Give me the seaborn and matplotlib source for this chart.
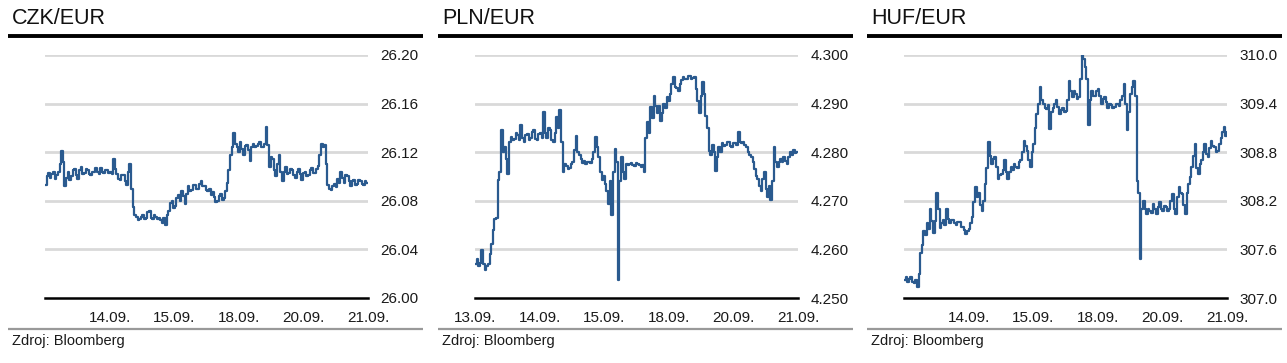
import numpy as np
import pandas as pd
import matplotlib
matplotlib.use("Agg")
import matplotlib.pyplot as plt
from matplotlib.lines import Line2D
import seaborn as sns

# ---------------- data ----------------
date_labels = ["13.09.", "14.09.", "15.09.", "18.09.", "20.09.", "21.09."]

czk_values = [
    26.093, 26.100, 26.103, 26.099, 26.102, 26.104, 26.098, 26.101, 26.104, 26.110,
    26.121, 26.112, 26.092, 26.099, 26.104, 26.097, 26.100, 26.105, 26.106, 26.101,
    26.098, 26.105, 26.108, 26.102, 26.103, 26.106, 26.105, 26.102, 26.101, 26.104,
    26.104, 26.107, 26.104, 26.102, 26.107, 26.104, 26.103, 26.105, 26.105, 26.103,
    26.104, 26.102, 26.114, 26.106, 26.102, 26.098, 26.097, 26.101, 26.101, 26.096,
    26.093, 26.104, 26.110, 26.090, 26.075, 26.068, 26.067, 26.064, 26.065, 26.067,
    26.068, 26.065, 26.066, 26.071, 26.072, 26.066, 26.065, 26.068, 26.067, 26.065,
    26.066, 26.064, 26.062, 26.066, 26.060, 26.068, 26.072, 26.078, 26.080, 26.074,
    26.076, 26.082, 26.085, 26.080, 26.088, 26.084, 26.077, 26.086, 26.092, 26.088,
    26.089, 26.093, 26.093, 26.090, 26.090, 26.094, 26.096, 26.092, 26.092, 26.089,
    26.088, 26.090, 26.085, 26.087, 26.083, 26.079, 26.080, 26.084, 26.086, 26.081,
    26.082, 26.088, 26.095, 26.105, 26.118, 26.124, 26.136, 26.127, 26.124, 26.120,
    26.128, 26.123, 26.118, 26.125, 26.126, 26.122, 26.113, 26.124, 26.127, 26.124,
    26.125, 26.127, 26.128, 26.124, 26.124, 26.127, 26.141, 26.126, 26.108, 26.116,
    26.114, 26.105, 26.100, 26.110, 26.118, 26.104, 26.096, 26.104, 26.108, 26.102,
    26.103, 26.106, 26.105, 26.101, 26.099, 26.104, 26.106, 26.102, 26.097, 26.103,
    26.104, 26.100, 26.101, 26.105, 26.107, 26.103, 26.103, 26.106, 26.109, 26.118,
    26.127, 26.124, 26.126, 26.110, 26.093, 26.090, 26.089, 26.092, 26.094, 26.091,
    26.098, 26.095, 26.104, 26.099, 26.095, 26.101, 26.100, 26.096, 26.092, 26.096,
    26.097, 26.093, 26.094, 26.097, 26.096, 26.094, 26.093, 26.096, 26.095, 26.095,
]

pln_values = [
    4.2570, 4.2580, 4.2565, 4.2572, 4.2598, 4.2570, 4.2557, 4.2566, 4.2570, 4.2590,
    4.2612, 4.2640, 4.2663, 4.2665, 4.2742, 4.2760, 4.2845, 4.2800, 4.2810, 4.2785,
    4.2755, 4.2820, 4.2832, 4.2825, 4.2828, 4.2840, 4.2836, 4.2825, 4.2855, 4.2830,
    4.2822, 4.2835, 4.2838, 4.2826, 4.2830, 4.2842, 4.2845, 4.2828, 4.2826, 4.2838,
    4.2840, 4.2830, 4.2882, 4.2840, 4.2830, 4.2850, 4.2845, 4.2825, 4.2822, 4.2840,
    4.2872, 4.2850, 4.2886, 4.2820, 4.2759, 4.2775, 4.2772, 4.2765, 4.2768, 4.2775,
    4.2780, 4.2805, 4.2834, 4.2800, 4.2795, 4.2785, 4.2778, 4.2782, 4.2776, 4.2780,
    4.2780, 4.2777, 4.2785, 4.2800, 4.2831, 4.2810, 4.2790, 4.2760, 4.2742, 4.2750,
    4.2735, 4.2720, 4.2694, 4.2740, 4.2670, 4.2760, 4.2807, 4.2780, 4.2538, 4.2740,
    4.2790, 4.2760, 4.2745, 4.2775, 4.2773, 4.2776, 4.2778, 4.2774, 4.2772, 4.2777,
    4.2776, 4.2773, 4.2770, 4.2774, 4.2759, 4.2830, 4.2862, 4.2840, 4.2892, 4.2870,
    4.2916, 4.2895, 4.2880, 4.2895, 4.2865, 4.2880, 4.2900, 4.2890, 4.2913, 4.2905,
    4.2920, 4.2940, 4.2954, 4.2935, 4.2932, 4.2925, 4.2940, 4.2948, 4.2954, 4.2950,
    4.2950, 4.2956, 4.2956, 4.2950, 4.2952, 4.2955, 4.2930, 4.2905, 4.2880, 4.2915,
    4.2944, 4.2920, 4.2875, 4.2850, 4.2803, 4.2795, 4.2815, 4.2800, 4.2762, 4.2790,
    4.2810, 4.2800, 4.2818, 4.2812, 4.2815, 4.2820, 4.2820, 4.2812, 4.2810, 4.2818,
    4.2818, 4.2814, 4.2841, 4.2820, 4.2818, 4.2822, 4.2815, 4.2810, 4.2800, 4.2795,
    4.2790, 4.2780, 4.2765, 4.2750, 4.2745, 4.2730, 4.2721, 4.2745, 4.2760, 4.2725,
    4.2708, 4.2730, 4.2701, 4.2740, 4.2810, 4.2780, 4.2770, 4.2780, 4.2785, 4.2780,
    4.2790, 4.2782, 4.2775, 4.2790, 4.2800, 4.2795, 4.2805, 4.2798, 4.2800, 4.2800,
]

huf_values = [
    307.22, 307.26, 307.20, 307.23, 307.26, 307.20, 307.18, 307.22, 307.14, 307.30,
    307.55, 307.65, 307.83, 307.78, 307.92, 307.85, 308.10, 307.95, 307.80, 307.95,
    308.30, 308.10, 307.87, 307.92, 307.96, 307.90, 308.10, 307.98, 307.92, 307.96,
    307.96, 307.92, 307.90, 307.94, 307.94, 307.88, 307.88, 307.84, 307.79, 307.83,
    307.85, 307.92, 308.00, 308.18, 308.37, 308.25, 308.30, 308.15, 308.08, 308.20,
    308.41, 308.60, 308.92, 308.75, 308.66, 308.72, 308.74, 308.62, 308.47, 308.52,
    308.53, 308.58, 308.70, 308.55, 308.47, 308.55, 308.62, 308.58, 308.66, 308.62,
    308.60, 308.68, 308.70, 308.80, 308.94, 308.88, 308.82, 308.70, 308.62, 308.80,
    308.90, 309.10, 309.27, 309.40, 309.60, 309.45, 309.40, 309.35, 309.33, 309.38,
    309.09, 309.30, 309.35, 309.40, 309.44, 309.36, 309.27, 309.32, 309.35, 309.30,
    309.31, 309.45, 309.68, 309.55, 309.48, 309.56, 309.52, 309.46, 309.48, 309.70,
    310.15, 309.95, 309.85, 309.70, 309.13, 309.45, 309.56, 309.50, 309.50, 309.55,
    309.58, 309.50, 309.40, 309.46, 309.48, 309.42, 309.35, 309.40, 309.38, 309.34,
    309.36, 309.40, 309.40, 309.37, 309.44, 309.50, 309.64, 309.40, 309.07, 309.30,
    309.52, 309.60, 309.68, 309.50, 308.45, 308.30, 307.48, 308.10, 308.20, 308.10,
    308.04, 308.10, 308.08, 308.05, 308.16, 308.10, 308.04, 308.12, 308.18, 308.10,
    308.08, 308.14, 308.12, 308.08, 308.10, 308.20, 308.29, 308.10, 308.04, 308.25,
    308.37, 308.30, 308.29, 308.15, 308.04, 308.30, 308.41, 308.50, 308.62, 308.75,
    308.90, 308.60, 308.53, 308.65, 308.70, 308.80, 308.90, 308.78, 308.74, 308.85,
    308.94, 308.88, 308.86, 308.80, 308.82, 308.90, 308.98, 309.05, 309.11, 309.00,
    309.05,
]

titles = ["CZK/EUR", "PLN/EUR", "HUF/EUR"]
series = [czk_values, pln_values, huf_values]
y_ticks = [
    [26.00, 26.04, 26.08, 26.12, 26.16, 26.20],
    [4.250, 4.260, 4.270, 4.280, 4.290, 4.300],
    [307.0, 307.6, 308.2, 308.8, 309.4, 310.0],
]
y_fmt = ["{:.2f}", "{:.3f}", "{:.1f}"]
show_first_label = [False, True, False]
source_text = "Zdroj: Bloomberg"

# ---------------- style ----------------
sns.set_style("white")
plt.rcParams["font.family"] = ["Liberation Sans", "DejaVu Sans"]

W, H = 1287, 363
fig = plt.figure(figsize=(W / 100, H / 100), dpi=100)
LINE_COLOR = "#2a5a8f"
GRID_COLOR = "#d9d9d9"

def fx(px):
    return px / W

def fy(py):
    return 1 - py / H

panel_offsets = [0, 430, 859]

for i in range(3):
    off = panel_offsets[i]
    left, right = off + 45, off + 368
    top, bottom = 55, 298
    ax = fig.add_axes([fx(left), fy(bottom), fx(right - left), (bottom - top) / H])
    vals = series[i]
    df = pd.DataFrame({"t": np.linspace(0, 5, len(vals)), "v": vals})
    sns.lineplot(data=df, x="t", y="v", ax=ax, color=LINE_COLOR, linewidth=1.6,
                 drawstyle="steps-post", estimator=None, sort=False)
    ticks = y_ticks[i]
    ax.set_ylim(ticks[0], ticks[-1])
    ax.set_xlim(0, 5)
    ax.set_yticks(ticks)
    ax.set_yticklabels([y_fmt[i].format(t) for t in ticks])
    ax.yaxis.tick_right()
    ax.tick_params(axis="y", length=0, pad=9, labelsize=11, labelcolor="#1a1a1a")
    ax.set_xticks(range(6))
    lbls = list(date_labels)
    if not show_first_label[i]:
        lbls[0] = ""
    ax.set_xticklabels(lbls)
    ax.tick_params(axis="x", direction="out", length=5, width=1.8, color="black",
                   pad=4, labelsize=11, labelcolor="#1a1a1a")
    for t in ticks[1:]:
        ax.axhline(t, color=GRID_COLOR, linewidth=2, zorder=0)
    for s in ["top", "right", "left"]:
        ax.spines[s].set_visible(False)
    ax.spines["bottom"].set_color("black")
    ax.spines["bottom"].set_linewidth(1.8)
    ax.set_xlabel("")
    ax.set_ylabel("")
    ax.set_facecolor("none")

    # title, rules, source
    fig.text(fx(off + 12), fy(18), titles[i], fontsize=15.5, color="#111111",
             ha="left", va="center")
    fig.add_artist(Line2D([fx(off + 8), fx(off + 423)], [fy(35.5), fy(35.5)],
                          color="black", linewidth=2.8, solid_capstyle="butt"))
    fig.add_artist(Line2D([fx(off + 8), fx(off + 423)], [fy(328.5), fy(328.5)],
                          color="#999999", linewidth=1.6, solid_capstyle="butt"))
    fig.text(fx(off + 12), fy(341), source_text, fontsize=10.5, color="#1a1a1a",
             ha="left", va="center")

fig.savefig("out.png", dpi=100)
